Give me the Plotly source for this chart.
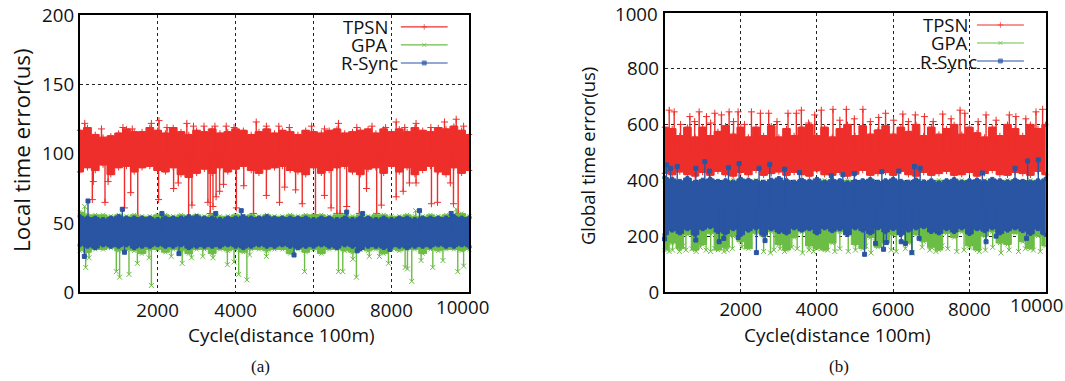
import plotly.graph_objects as go

CYCLES = list(range(0, 10001, 200))
SERIES = ["TPSN", "GPA", "R-Sync"]
X_TICKS = [2000, 4000, 6000, 8000]
X_LABELS = ["2000", "4000", "6000", "8000"]
Y_TICKS_A = [0, 50, 100, 150, 200]
Y_TICKS_B = [0, 200, 400, 600, 800]

# ---------- panel (a): local time error ----------
a_tpsn_hi = [117,119,114,112,113,115,118,116,116,119,117,115,119,116,114,117,116,118,115,116,118,117,114,116,118,115,117,116,114,117,116,115,117,118,115,116,117,118,115,118,116,118,116,119,117,116,119,118,120,117,114]
a_tpsn_lo = [87,90,88,92,85,90,91,87,90,91,88,87,90,85,83,86,89,86,90,87,89,91,88,86,89,90,91,88,87,85,90,86,88,90,91,87,85,89,90,86,91,87,90,85,88,91,87,85,90,86,88]
a_tpsn_up_x = [130,560,1110,1350,1840,2035,2240,2750,2920,3190,3470,3760,3960,4530,4790,5110,5380,5950,6280,6640,7110,7500,7850,8120,8340,8630,9010,9360,9660,9850]
a_tpsn_up_y = [122,118,119,118,122,124,119,122,120,120,120,120,119,123,120,120,119,120,118,122,119,120,119,123,119,122,119,123,125,120]
a_tpsn_dn_x = [325,350,650,730,1150,1310,1490,2025,2410,2530,2795,2880,3290,3350,3420,3500,3590,3690,4020,4210,4460,4790,5128,5260,5540,5710,6050,6280,6450,6600,6680,6850,7175,7360,7620,7740,8120,8300,8460,8630,9025,9180,9510,9590,9710]
a_tpsn_dn_y = [67,80,65,80,61,72,55,67,75,79,55,63,65,57,62,69,73,78,61,77,57,70,65,76,74,64,56,70,61,57,57,62,57,75,57,63,69,73,79,79,64,65,79,64,57]

a_gpa_hi = [58,56,56,56,55,56,55,56,55,55,56,56,55,56,55,56,55,56,55,55,56,55,56,55,56,55,55,56,55,56,56,56,55,56,56,55,56,55,56,56,55,55,56,55,55,56,55,56,56,57,55]
a_gpa_lo = [30,29,31,31,32,30,31,30,28,31,31,29,31,30,28,31,31,28,31,30,31,29,31,31,30,31,31,28,31,29,31,28,31,31,30,29,31,30,31,28,31,30,31,31,28,31,30,31,31,30,31]
a_gpa_up_x = [130,8620,9660]
a_gpa_up_y = [62,59,60]
a_gpa_dn_x = [155,240,940,1025,1265,1480,1840,1780,2350,2630,2870,3160,3420,3790,3960,4080,4290,4360,4790,5770,6640,6750,7100,7010,7430,7690,7923,8350,8410,8520,8760,9060,9320,9700,9850]
a_gpa_dn_y = [18,25,15,11,13,21,5,25,26,21,25,26,25,20,22,13,9,27,26,15,15,15,11,24,26,26,21,18,17,8,23,18,23,15,19]

a_rsync_hi = [55,54,54,53,54,55,54,54,54,54,53,54,54,54,55,55,54,54,53,54,54,55,54,54,55,54,54,54,54,54,53,54,54,53,54,53,54,54,53,54,53,54,54,53,54,54,54,54,55,54,54]
a_rsync_lo = [34,33,32,34,33,33,34,32,33,33,34,33,33,34,32,33,33,33,33,34,33,32,33,34,33,33,34,33,32,33,33,34,33,32,34,33,31,33,33,32,33,33,32,33,33,33,34,33,33,34,33]
a_rsync_up_x = [214,1094,2110,3490,4145,6850,7260,8720,9530]
a_rsync_up_y = [66,60,57,57,59,58,57,59,57]
a_rsync_dn_x = [120,1150,2547,5500,7120,7960]
a_rsync_dn_y = [26,29,28,27,30,31]

# ---------- panel (b): global time error ----------
b_tpsn_hi = [590,585,560,590,555,590,560,575,595,565,590,555,590,560,595,555,585,560,590,600,560,590,555,585,600,560,595,565,580,595,565,590,575,600,560,590,565,585,600,565,590,570,555,590,560,600,585,560,600,585,600]
b_tpsn_lo = [425,420,430,420,415,428,418,432,420,415,428,420,435,418,424,430,418,428,420,415,434,420,418,428,415,422,435,418,424,428,418,432,420,415,428,418,424,432,418,420,428,415,424,435,420,418,428,424,418,432,420]
b_tpsn_up_x = [122,253,420,664,790,908,1100,1210,1319,1493,1694,1810,1930,2100,2280,2515,2733,2950,3240,3458,3590,3780,3940,4113,4420,4600,4770,4980,5205,5400,5620,5800,6010,6253,6400,6580,6820,7050,7300,7520,7755,7880,8230,8437,8700,9048,9220,9480,9747,9921]
b_tpsn_up_y = [651,645,600,628,610,645,628,605,640,634,645,610,645,600,645,640,640,610,640,640,651,605,634,651,654,615,654,620,654,610,625,640,615,637,610,634,628,610,637,620,651,640,610,634,615,634,628,620,645,654]

b_gpa_hi = [400,395,395,400,395,395,400,395,395,400,395,395,400,395,395,400,395,395,400,395,395,400,395,395,400,395,395,400,395,395,400,395,395,400,395,395,400,395,395,400,395,395,400,395,395,400,395,395,400,395,395]
b_gpa_lo = [150,175,155,205,150,170,210,150,160,200,180,155,210,200,215,170,150,195,215,165,155,150,175,215,205,170,155,195,160,175,205,215,175,205,180,160,150,210,195,215,165,150,200,215,175,170,210,180,155,200,165]
b_gpa_dn_x = [120,210,390,480,560,720,830,940,1090,1210,1320,1560,1640,1780,2030,2240,2600,2780,2870,3030,3150,3340,3480,3620,3790,3910,4120,4280,4470,4600,4820,5010,5280,5420,5950,6080,6320,6500,6760,6960,7120,7280,7430,7670,7860,8010,8260,8420,8610,8830,9040,9290,9470,9680,9860]
b_gpa_dn_y = [145,150,145,165,150,155,145,160,150,145,155,145,150,155,160,165,145,140,150,155,145,160,155,140,150,145,155,150,145,155,145,150,165,140,150,145,155,140,160,150,145,165,155,145,150,160,145,150,160,140,150,145,155,150,145]

b_rsync_hi = [410,405,398,408,395,402,405,398,400,395,405,402,398,395,402,408,400,395,402,398,405,395,402,400,392,398,400,404,395,400,405,398,395,402,396,400,392,400,404,395,400,402,396,405,400,396,402,398,395,400,405]
b_rsync_lo = [205,220,210,225,205,225,232,215,210,225,205,220,228,205,225,215,210,228,220,225,210,228,218,225,205,228,220,210,228,215,225,205,220,228,232,215,210,225,215,228,208,225,218,228,210,220,228,218,208,225,205]
b_rsync_up_x = [52,157,332,821,1057,1180,1677,1956,2480,2760,3153,3540,4376,4680,4980,5703,6148,6559,6707,8340,9197,9528,9808]
b_rsync_up_y = [455,443,449,443,467,433,445,460,443,457,440,428,416,420,424,431,433,449,443,426,443,469,473]
b_rsync_dn_x = [0,821,1432,1555,1930,2410,2637,5249,5537,5747,5820,6210,6320,6489,6680,8437,8700,9502,9920]
b_rsync_dn_y = [190,186,180,192,195,141,184,135,174,153,177,180,174,141,192,180,200,192,215]

# ---------- styles ----------
RED, GREEN, BLUE = "#ee2e2a", "#6cbd45", "#2955a3"
FONT = "Open Sans"
W, H = 1065, 381
XDOM_A, XDOM_B = [0.0748, 0.4408], [0.6240, 0.9818]
YDOM_A, YDOM_B = [0.2325, 0.9598], [0.2336, 0.9667]

fig = go.Figure()


def add_series(xa, ya, color, symbol, knot_size, tip_size, hi, lo, up_x, up_y, dn_x, dn_y, center):
    knot_marker = dict(color=color, symbol=symbol, size=knot_size, line=dict(color=color, width=1))
    tip_marker = dict(color=color, symbol=symbol, size=tip_size, line=dict(color=color, width=1))
    fig.add_trace(go.Scatter(
        x=CYCLES + CYCLES[::-1], y=hi + lo[::-1], xaxis=xa, yaxis=ya, mode="lines+markers",
        fill="toself", fillcolor=color, line=dict(color=color, width=1, shape="hvh"),
        marker=knot_marker, showlegend=False, hoverinfo="skip", cliponaxis=False))
    if up_x:
        fig.add_trace(go.Scatter(
            x=up_x, y=up_y, xaxis=xa, yaxis=ya, mode="markers", marker=tip_marker, showlegend=False,
            cliponaxis=False,
            error_y=dict(type="data", symmetric=False, array=[0] * len(up_x),
                         arrayminus=[v - center for v in up_y], color=color, thickness=1.4, width=0)))
    if dn_x:
        fig.add_trace(go.Scatter(
            x=dn_x, y=dn_y, xaxis=xa, yaxis=ya, mode="markers", marker=tip_marker, showlegend=False,
            cliponaxis=False,
            error_y=dict(type="data", symmetric=False, arrayminus=[0] * len(dn_x),
                         array=[center - v for v in dn_y], color=color, thickness=1.4, width=0)))


# panel (a)
add_series("x", "y", RED, "cross-thin", 4, 5, a_tpsn_hi, a_tpsn_lo, a_tpsn_up_x, a_tpsn_up_y, a_tpsn_dn_x, a_tpsn_dn_y, 100)
add_series("x", "y", GREEN, "x-thin", 4, 5, a_gpa_hi, a_gpa_lo, a_gpa_up_x, a_gpa_up_y, a_gpa_dn_x, a_gpa_dn_y, 42)
add_series("x", "y", BLUE, "square", 3, 4, a_rsync_hi, a_rsync_lo, a_rsync_up_x, a_rsync_up_y, a_rsync_dn_x, a_rsync_dn_y, 42)
# panel (b)
add_series("x2", "y2", RED, "cross-thin", 4, 5, b_tpsn_hi, b_tpsn_lo, b_tpsn_up_x, b_tpsn_up_y, [], [], 490)
add_series("x2", "y2", GREEN, "x-thin", 4, 5, b_gpa_hi, b_gpa_lo, [], [], b_gpa_dn_x, b_gpa_dn_y, 300)
add_series("x2", "y2", BLUE, "square", 3, 4, b_rsync_hi, b_rsync_lo, b_rsync_up_x, b_rsync_up_y, b_rsync_dn_x, b_rsync_dn_y, 300)

annotations = []
shapes = []


def text_at(px, py, text, size, family=FONT, angle=0, xanchor="center"):
    annotations.append(dict(x=px / W, y=1 - py / H, xref="paper", yref="paper", text=text, showarrow=False,
                            xanchor=xanchor, yanchor="middle", textangle=angle,
                            font=dict(family=family, size=size, color="#111")))


def add_key(xa, ya, xs, ys, text_right_px, right_offsets):
    for name, color, symbol, msize, yv, off in zip(SERIES, [RED, GREEN, BLUE], ["cross-thin", "x-thin", "square"], [4, 4, 4], ys, right_offsets):
        fig.add_trace(go.Scatter(
            x=xs, y=[yv] * 3, xaxis=xa, yaxis=ya, mode="lines+markers", showlegend=False,
            line=dict(color=color, width=1.2),
            marker=dict(symbol=symbol, color=color, size=[0, msize, 0], line=dict(color=color, width=1))))
        annotations.append(dict(x=(text_right_px + off) / W, xref="paper", y=yv, yref=ya, text=name,
                                xanchor="right", yanchor="middle", showarrow=False,
                                font=dict(family=FONT, size=18.5, color="#111")))


add_key("x", "y", [8240, 8840, 9440], [191.6, 178.6, 165.6], 389.5, [0, 0, 10])
add_key("x2", "y2", [8198, 8814, 9430], [956, 891.5, 827], 969.5, [0, 0, 9])

shapes.append(dict(type="rect", xref="x", yref="y", x0=6674, x1=9500, y0=160, y1=199,
                   fillcolor="white", line_width=0, layer="below"))
shapes.append(dict(type="rect", xref="x2", yref="y2", x0=6700, x1=9470, y0=795, y1=995,
                   fillcolor="white", line_width=0, layer="below"))

text_at(260, 366, "(a)", 17, "Liberation Serif")
text_at(839, 366, "(b)", 17, "Liberation Serif")
text_at(281, 335, "Cycle(distance 100m)", 19)
text_at(837, 335, "Cycle(distance 100m)", 19)
text_at(21, 150, "Local time error(us)", 22.4, angle=-90)
text_at(588, 156, "Global time error(us)", 18.4, angle=-90)
text_at(462, 306, "10000", 18.7)
text_at(1036, 304, "10000", 18.7)
text_at(660, 14, "1000", 18.7, xanchor="right")

common_axis = dict(showline=True, mirror=True, linecolor="black", linewidth=1.5, ticks="", automargin=False,
                   showgrid=True, griddash="3px,3px", gridcolor="#222", gridwidth=1, zeroline=False,
                   tickfont=dict(family=FONT, size=18.7, color="#111"))
grid_end_x = dict(type="line", line=dict(color="#222", width=1, dash="3px,3px"), layer="below")

fig.update_layout(
    width=W, height=H, margin=dict(l=0, r=0, t=0, b=0), autosize=False,
    paper_bgcolor="white", plot_bgcolor="white", showlegend=False,
    annotations=annotations, shapes=shapes,
    xaxis=dict(domain=XDOM_A, range=[0, 10000], tickvals=X_TICKS, ticktext=X_LABELS, anchor="y", **common_axis),
    yaxis=dict(domain=YDOM_A, range=[0, 200], tickvals=Y_TICKS_A, anchor="x", **common_axis),
    xaxis2=dict(domain=XDOM_B, range=[0, 10000], tickvals=X_TICKS, ticktext=X_LABELS, anchor="y2", **common_axis),
    yaxis2=dict(domain=YDOM_B, range=[0, 1000], tickvals=Y_TICKS_B, anchor="x2", **common_axis),
)

fig.write_html("out.html", config=dict(displayModeBar=False),
               post_script="document.body.style.margin='0';")
